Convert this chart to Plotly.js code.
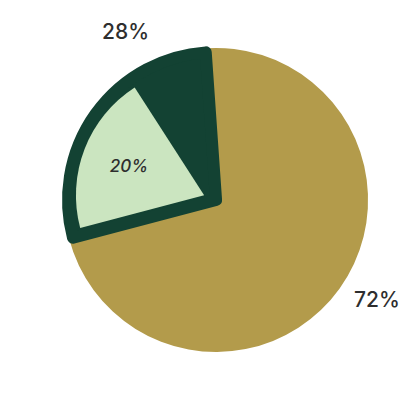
<!DOCTYPE html>
<html>
<head>
<meta charset="utf-8">
<script src="https://cdn.plot.ly/plotly-3.0.1.min.js"></script>
<style>
  body { margin: 0; background: #fff; }
  #chart { width: 410px; height: 400px; }
  .pielayer path.surface { stroke-linejoin: round; }
</style>
</head>
<body>
<div id="chart"></div>
<script>
// outer pie: share of the total
var labels = ['Other', 'Group'];
var values = [72, 28];
var colors = ['#b39b4b', '#134233'];

// inner wedge: part of the group slice
var innerLabels = ['Other', 'Subgroup', 'Rest'];
var innerValues = [72, 20, 8];
var innerColors = ['rgba(0,0,0,0)', '#cbe5c0', 'rgba(0,0,0,0)'];

var total = values.reduce(function (a, b) { return a + b; }, 0);
function pct(v) { return Math.round(v / total * 100) + '%'; }

var labelFont = { family: 'Inter, sans-serif', size: 21, color: '#2e2e2e', weight: 500 };

// gold base
var base = {
  type: 'pie',
  labels: labels,
  values: values,
  sort: false,
  direction: 'clockwise',
  rotation: -4,
  domain: { x: [0.156, 0.898], y: [0.12, 0.88] },
  marker: { colors: [colors[0], 'rgba(0,0,0,0)'], line: { width: 0 } },
  textinfo: 'none',
  hoverinfo: 'label+percent'
};

// dark slice with thick rounded outline, a bit smaller so it barely sticks out
var group = {
  type: 'pie',
  labels: labels,
  values: values,
  sort: false,
  direction: 'clockwise',
  rotation: -4,
  domain: { x: [0.166, 0.888], y: [0.13, 0.87] },
  marker: { colors: ['rgba(0,0,0,0)', colors[1]], line: { color: colors, width: [0, 12] } },
  textinfo: 'none',
  hoverinfo: 'label+percent'
};

var inner = {
  type: 'pie',
  labels: innerLabels,
  values: innerValues,
  sort: false,
  direction: 'clockwise',
  rotation: -4,
  pull: [0, 0.1, 0],
  domain: { x: [0.183, 0.871], y: [0.1475, 0.8525] },
  marker: { colors: innerColors, line: { width: 0 } },
  text: innerValues.map(function (v, i) { return i === 1 ? pct(v) : ''; }),
  textinfo: 'text',
  textposition: 'inside',
  insidetextorientation: 'horizontal',
  textfont: { family: 'Inter, sans-serif', size: 17, color: '#2e2e2e', style: 'italic', weight: 500 },
  hoverinfo: 'label+percent',
  showlegend: false
};

var layout = {
  width: 410,
  height: 400,
  margin: { l: 0, r: 0, t: 0, b: 0 },
  showlegend: false,
  paper_bgcolor: '#ffffff',
  annotations: [
    { text: pct(values[1]), x: 125 / 410, y: 1 - 32 / 400, xref: 'paper', yref: 'paper',
      xanchor: 'center', yanchor: 'middle', showarrow: false, font: labelFont },
    { text: pct(values[0]), x: 377 / 410, y: 1 - 299 / 400, xref: 'paper', yref: 'paper',
      xanchor: 'center', yanchor: 'middle', showarrow: false, font: labelFont }
  ]
};

Plotly.newPlot('chart', [base, group, inner], layout, { displayModeBar: false });
</script>
</body>
</html>
